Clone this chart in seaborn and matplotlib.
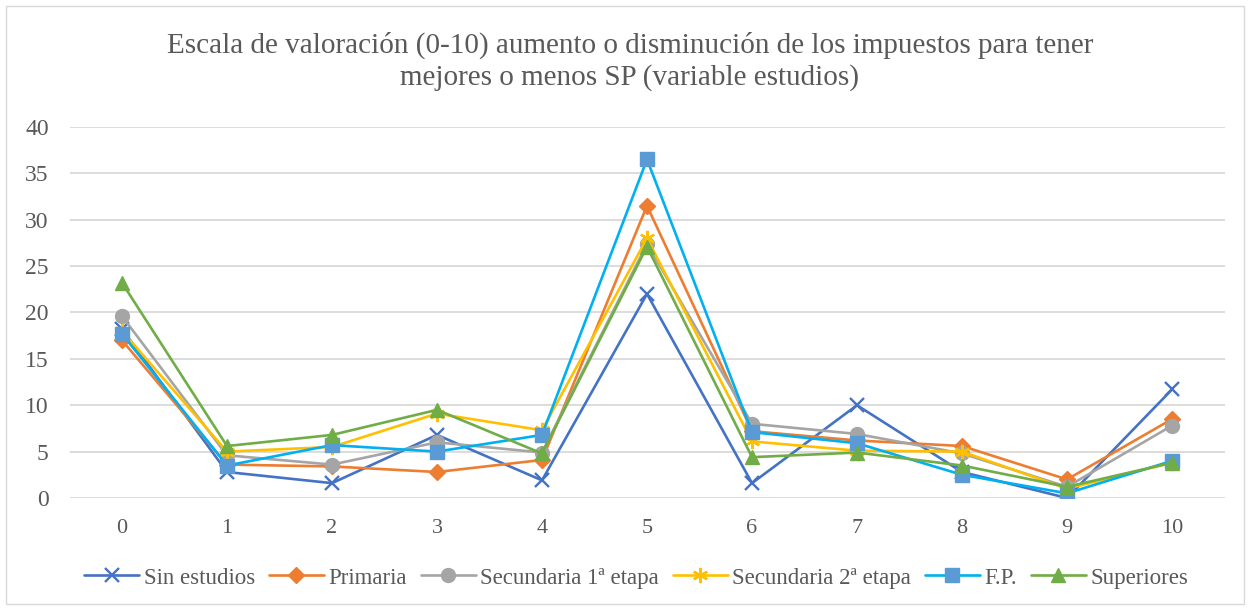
import matplotlib
matplotlib.use("Agg")
import matplotlib.pyplot as plt
from matplotlib.patches import Rectangle
import pandas as pd
import seaborn as sns

# ==================== DATA ====================
escala = list(range(11))
series = ["Sin estudios", "Primaria", "Secundaria 1ª etapa",
          "Secundaria 2ª etapa", "F.P.", "Superiores"]

sin_estudios = [18.2, 2.8, 1.6, 6.8, 1.9, 22.0, 1.6, 10.0, 2.8, 0.0, 11.7]
primaria     = [17.0, 3.6, 3.4, 2.8, 4.1, 31.5, 7.2, 6.2, 5.6, 2.0, 8.5]
secundaria1  = [19.6, 4.6, 3.6, 6.0, 4.9, 27.4, 8.0, 6.9, 4.8, 1.2, 7.8]
secundaria2  = [18.0, 5.0, 5.5, 9.1, 7.3, 28.0, 6.1, 5.1, 5.0, 1.0, 3.8]
fp           = [17.7, 3.5, 5.7, 5.0, 6.8, 36.5, 7.1, 5.9, 2.5, 0.5, 4.0]
superiores   = [23.2, 5.6, 6.8, 9.5, 4.8, 27.1, 4.4, 4.9, 3.5, 1.2, 3.8]

valores = [sin_estudios, primaria, secundaria1, secundaria2, fp, superiores]

# styles per series (line colour, marker colour, marker, size)
estilos = {
    "Sin estudios":        ("#4472C4", "#4472C4", "x", 10),
    "Primaria":            ("#ED7D31", "#ED7D31", "D", 8),
    "Secundaria 1ª etapa": ("#A5A5A5", "#A5A5A5", "o", 10),
    "Secundaria 2ª etapa": ("#FFC000", "#FFC000", (6, 2, 0), 11),
    "F.P.":                ("#00B0F0", "#5B9BD5", "s", 10),
    "Superiores":          ("#70AD47", "#70AD47", "^", 10),
}

df = pd.DataFrame({"escala": escala * len(series),
                   "serie": [s for s in series for _ in escala],
                   "valor": [v for vals in valores for v in vals]})

# ==================== PLOT ====================
sns.set_theme(style="white")
plt.rcParams["font.family"] = ["Liberation Serif", "DejaVu Serif"]
texto = "#595959"

fig = plt.figure(figsize=(12.5, 6.09), dpi=100)
ax = fig.add_axes([0.0556, 0.1823, 0.924, 0.6092])

for s in series:
    lc, mc, mk, ms = estilos[s]
    sns.lineplot(data=df[df["serie"] == s], x="escala", y="valor", ax=ax,
                 color=lc, marker=mk, markersize=ms, markerfacecolor=mc,
                 markeredgecolor=mc, markeredgewidth=1.7 if mk in ("x", (6, 2, 0)) else 1,
                 linewidth=1.9, label=s, zorder=3)

ax.set_xlim(-0.5, 10.5)
ax.set_ylim(0, 40)
ax.set_xticks(escala)
ax.set_yticks(range(0, 41, 5))
ax.yaxis.grid(True, color="#D9D9D9", linewidth=1.3)
ax.set_axisbelow(True)
for sp in ax.spines.values():
    sp.set_visible(False)
ax.tick_params(axis="both", length=0, labelcolor=texto)
ax.tick_params(axis="x", pad=15, labelsize=16)
ax.tick_params(axis="y", pad=15, labelsize=17)
ax.set_xlabel("")
ax.set_ylabel("")

ax.legend_.remove()
handles, labels = ax.get_legend_handles_labels()
fig.legend(handles, labels, loc="center", bbox_to_anchor=(0.509, 1 - 578 / 609),
           ncol=6, frameon=False, fontsize=16.5, labelcolor=texto,
           handlelength=2.4, handletextpad=0.2, columnspacing=0.6)

fig.text(0.504, 1 - 61.5 / 609,
         "Escala de valoración (0-10) aumento o disminución de los impuestos para tener\n"
         "mejores o menos SP (variable estudios)",
         ha="center", va="center", fontsize=21, color=texto, linespacing=1.22)

fig.patches.append(Rectangle((0.005, 0.008), 0.99, 0.982, transform=fig.transFigure,
                             fill=False, edgecolor="#D9D9D9", linewidth=1))

fig.savefig("out.png", dpi=100)
